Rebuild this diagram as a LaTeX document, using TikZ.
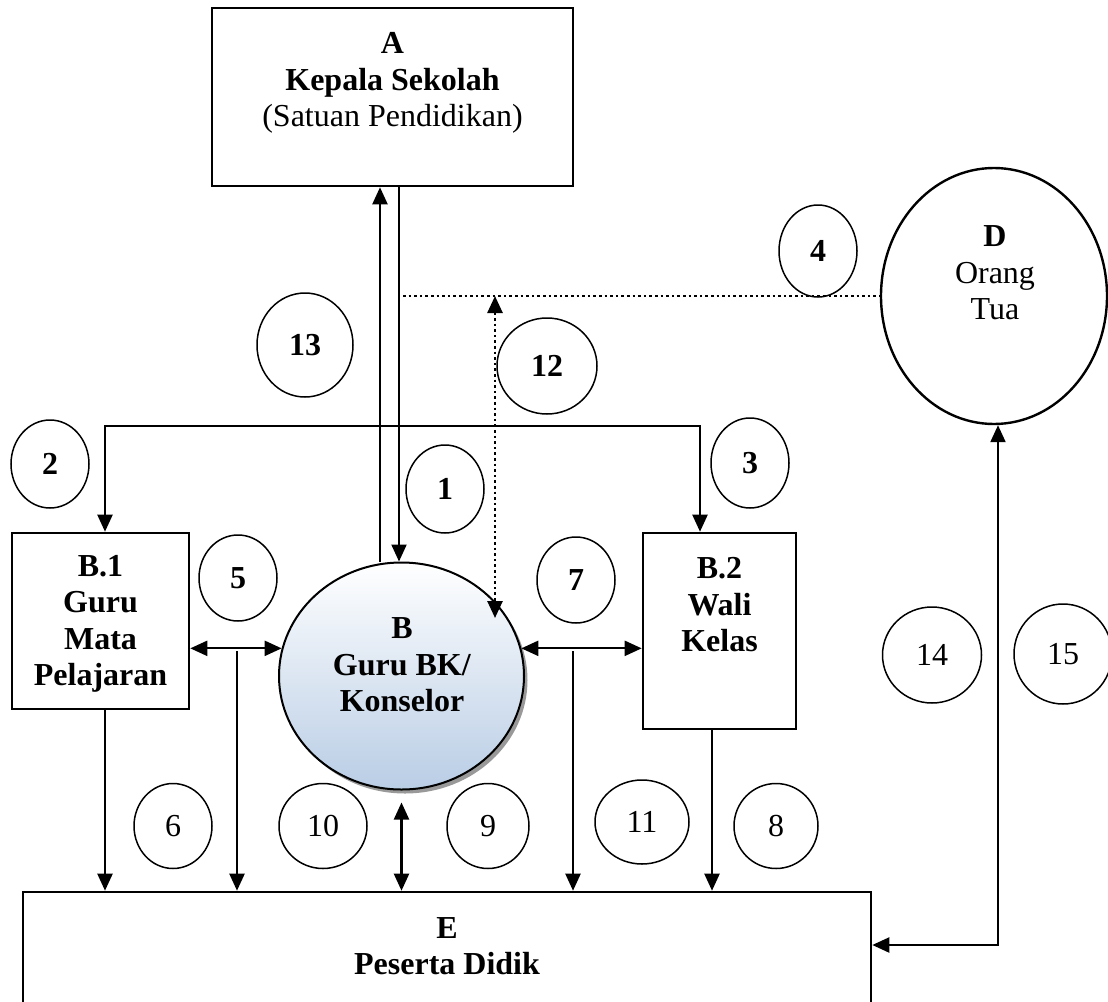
\documentclass[tikz,border=0pt]{standalone}
\usepackage{fontspec}
\setmainfont{Liberation Serif}
\usetikzlibrary{arrows.meta,shapes.geometric,calc}
\definecolor{bblue}{RGB}{185,205,229}
\begin{document}
\begin{tikzpicture}[x=1pt,y=-1pt,
  every node/.style={font=\fontsize{32}{36.5}\selectfont},
  box/.style={draw, line width=2.6pt, rectangle, inner sep=0pt},
  numc/.style={draw, ellipse, line width=1.5pt, inner sep=0pt},
  txt/.style={align=center, inner sep=0pt},
  arr/.style={line width=2.2pt, -{Triangle[length=17pt,width=15pt]}},
  arrb/.style={line width=2.2pt, {Triangle[length=17pt,width=15pt]}-{Triangle[length=17pt,width=15pt]}},
  dline/.style={line width=2.6pt, dash pattern=on 2.6pt off 3pt},
]
\useasboundingbox (0,0) rectangle (1108,1001);

% main boxes
\node[box, minimum width=361pt, minimum height=178pt] (A) at (392.5,97) {};
\node[txt] (Atxt) at (392.5,83) {\textbf{A}\\\textbf{Kepala Sekolah}\\(Satuan Pendidikan)};

\node[box, minimum width=177pt, minimum height=176pt] (B1) at (100.5,621) {};
\node[txt] (B1txt) at (100.5,624) {\textbf{B.1}\\\textbf{Guru}\\\textbf{Mata}\\\textbf{Pelajaran}};

\node[box, minimum width=153pt, minimum height=196pt] (B2) at (719.5,631) {};
\node[txt] (B2txt) at (719.5,605) {\textbf{B.2}\\\textbf{Wali}\\\textbf{Kelas}};

\fill[black!40] (405,680) ellipse [x radius=122.5pt, y radius=113.5pt];
\node[ellipse, draw, line width=2pt, top color=white, bottom color=bblue,
      minimum width=245pt, minimum height=227pt, inner sep=0pt] (B) at (401.5,676) {};
\node[txt] (Btxt) at (402,665) {\textbf{B}\\\textbf{Guru BK/}\\\textbf{Konselor}};

\node[ellipse, draw, line width=2.4pt, minimum width=226pt, minimum height=256pt, inner sep=0pt] (D) at (994,296) {};
\node[txt] (Dtxt) at (995,273) {\textbf{D}\\Orang\\Tua};

\node[box, minimum width=848pt, minimum height=140pt] (E) at (447,962) {};
\node[txt] (Etxt) at (447,946) {\textbf{E}\\\textbf{Peserta Didik}};

% number circles
\node[numc, minimum width=96pt, minimum height=104pt] (n13) at (305,345) {\textbf{13}};
\node[numc, minimum width=78pt, minimum height=88pt] (n1) at (445,489) {\textbf{1}};
\node[numc, minimum width=100pt, minimum height=96pt] (n12) at (547,366) {\textbf{12}};
\node[numc, minimum width=78pt, minimum height=92pt] (n4) at (818,251) {\textbf{4}};
\node[numc, minimum width=78pt, minimum height=88pt] (n2) at (50,464) {\textbf{2}};
\node[numc, minimum width=78pt, minimum height=90pt] (n3) at (750,463) {\textbf{3}};
\node[numc, minimum width=78pt, minimum height=86pt] (n5) at (238,578) {\textbf{5}};
\node[numc, minimum width=78pt, minimum height=86pt] (n7) at (576,580) {\textbf{7}};
\node[numc, minimum width=78pt, minimum height=85pt] (n6) at (173,826) {6};
\node[numc, minimum width=88pt, minimum height=85pt] (n10) at (323,826) {10};
\node[numc, minimum width=82pt, minimum height=85pt] (n9) at (488,826) {9};
\node[numc, minimum width=94pt, minimum height=84pt] (n11) at (642,822) {11};
\node[numc, minimum width=84pt, minimum height=85pt] (n8) at (776,826) {8};
\node[numc, minimum width=99pt, minimum height=96pt] (n14) at (932,655) {14};
\node[numc, minimum width=98pt, minimum height=100pt] (n15) at (1063,654) {15};

% connectors A <-> B
\coordinate (xU) at (380,0);
\coordinate (xD) at (399,0);
\draw[arr] (xU |- B.north) -- (xU |- A.south);
\draw[arr] (xD |- A.south) -- (xD |- B.north);

% bar to B.1 and B.2
\coordinate (h1) at (105,426);
\coordinate (h2) at (700,426);
\draw[arr] (h2) -- (h1) -- (h1 |- B1.north);
\draw[arr] (h1) -- (h2) -- (h2 |- B2.north);

% dotted lines
\coordinate (dS) at (403,296);
\draw[dline] (dS) -- (D.west);
\coordinate (dT) at (495,296);
\coordinate (dB) at (495,618);
\draw[dline, {Triangle[length=17pt,width=15pt]}-{Triangle[length=17pt,width=15pt]}] (dT) -- (dB);

% horizontal double arrows
\draw[arrb] (B1.east |- B.167) -- (B.167);
\draw[arrb] (B.13) -- (B2.west |- B.13);

% drops to E
\coordinate (v1) at (237,651);
\coordinate (v2) at (573,651);
\coordinate (x8) at (712,0);
\draw[arr] (B1.south -| h1) -- (h1 |- E.north);
\draw[arr] (v1) -- (v1 |- E.north);
\draw[arrb, shorten <=12pt] (B.south) -- (B.south |- E.north);
\draw[arr] (v2) -- (v2 |- E.north);
\draw[arr] (B2.south -| x8) -- (x8 |- E.north);

% D <-> E
\coordinate (c) at (998,945);
\draw[arrb] (c |- D.south) -- (c) -- (E.east |- c);
\end{tikzpicture}
\end{document}
